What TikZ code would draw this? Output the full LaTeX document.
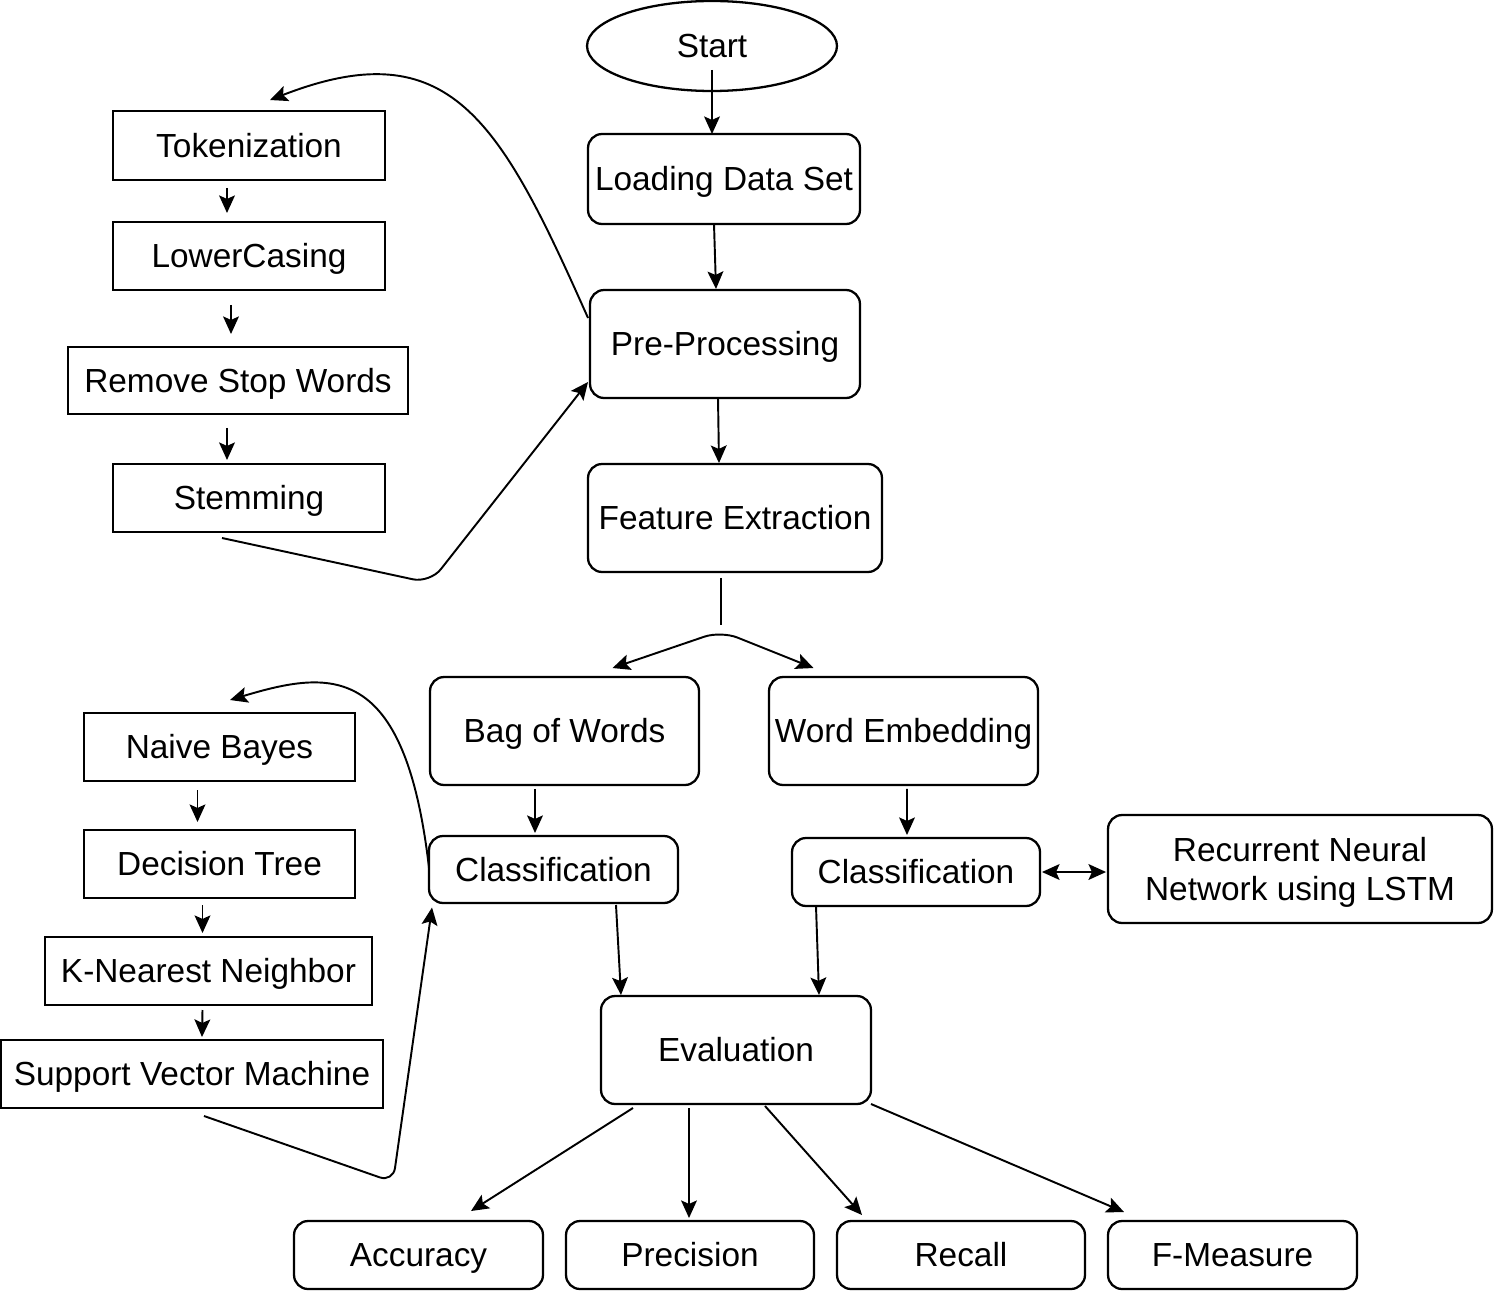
\documentclass[tikz,border=0pt]{standalone}
\usepackage{fontspec}
\setmainfont{Liberation Sans}
\usetikzlibrary{shapes.geometric,arrows.meta,calc}
\begin{document}
\begin{tikzpicture}[x=0.02cm,y=-0.02cm,
  font=\fontsize{19}{22.7}\selectfont,
  base/.style={draw,line width=1.3pt,inner sep=2pt,outer sep=0pt,align=center,text height=15.2pt,text depth=1.6pt},
  sbox/.style={base,rectangle,minimum height=1.36cm},
  rbox/.style={base,rectangle,rounded corners=8pt},
  tall/.style={rbox,minimum height=2.16cm},
  short/.style={rbox,minimum height=1.36cm},
  conn/.style={line width=1.1pt,-{Stealth[length=10pt,width=9pt,inset=2pt]}},
  plain/.style={line width=1.1pt}]
\useasboundingbox (0,0) rectangle (1494,1291);
% main column
\node[base,ellipse,minimum width=5cm,minimum height=1.8cm] (start) at (712,46) {Start};
\node[rbox,minimum width=5.44cm,minimum height=1.8cm] (load) at (724,179) {Loading Data Set};
\node[tall,minimum width=5.4cm] (pre) at (725,344) {Pre-Processing};
\node[tall,minimum width=5.88cm] (fe) at (735,518) {Feature Extraction};
% preprocessing steps
\node[sbox,minimum width=5.44cm,minimum height=1.38cm] (tok) at (249,145.5) {Tokenization};
\node[sbox,minimum width=5.44cm] (low) at (249,256) {LowerCasing};
\node[sbox,minimum width=6.8cm,minimum height=1.34cm] (rsw) at (238,380.5) {Remove Stop Words};
\node[sbox,minimum width=5.44cm] (stem) at (249,498) {Stemming};
% features
\node[tall,minimum width=5.38cm] (bow) at (564.5,731) {Bag of Words};
\node[tall,minimum width=5.38cm] (we) at (903.5,731) {Word Embedding};
\node[short,minimum width=4.98cm,minimum height=1.34cm] (cl) at (553.5,869.5) {Classification};
\node[short,minimum width=4.96cm] (cr) at (916,872) {Classification};
\node[tall,minimum width=7.68cm,text height=36.3pt,text depth=0pt] (rnn) at (1300,869) {Recurrent Neural\\Network using LSTM};
% classifiers
\node[sbox,minimum width=5.42cm] (nb) at (219.5,747) {Naive Bayes};
\node[sbox,minimum width=5.42cm] (dt) at (219.5,864) {Decision Tree};
\node[sbox,minimum width=6.54cm] (knn) at (208.5,971) {K-Nearest Neighbor};
\node[sbox,minimum width=7.64cm] (svm) at (192,1074) {Support Vector Machine};
% evaluation
\node[tall,minimum width=5.4cm] (eval) at (736,1050) {Evaluation};
\node[short,minimum width=4.98cm] (acc) at (418.5,1255) {Accuracy};
\node[short,minimum width=4.96cm] (prec) at (690,1255) {Precision};
\node[short,minimum width=4.96cm] (rec) at (961,1255) {Recall};
\node[short,minimum width=4.98cm] (fm) at (1232.5,1255) {F-Measure};

% main flow
\draw[conn] ($(start.center)+(0,24)$) -- (start.center |- load.north);
\draw[conn] ($(load.south)+(-10,0)$) -- ($(pre.north)+(-9,-1)$);
\draw[conn] ($(pre.south)+(-7,0)$) -- ($(fe.north)+(-16,-1)$);
\coordinate (fk) at ($(fe.south)+(-14,59)$);
\draw[plain] ($(fe.south)+(-14,6)$) -- ($(fk)+(0,-6)$);
\draw[line width=1.1pt,{Stealth[length=10pt,width=9pt,inset=2pt]}-{Stealth[length=10pt,width=9pt,inset=2pt]},rounded corners=10pt]
  ($(bow.north)+(48,-9)$) -- (fk) -- ($(we.north)+(-90,-9)$);
% preprocessing chain
\draw[conn] ($(tok.south)+(-22,8)$) -- ($(low.north)+(-22,-9)$);
\draw[conn] ($(low.south)+(-18,15)$) -- ($(rsw.north)+(-7,-13)$);
\draw[conn] ($(rsw.south)+(-11,14)$) -- ($(stem.north)+(-22,-4)$);
\draw[conn] ($(pre.west)+(-2,-26)$) .. controls (500,120) and (450,30) .. ($(tok.north)+(21,-11)$);
\draw[conn,rounded corners=10pt] ($(stem.south)+(-27,6)$) -- (430,583) -- ($(pre.west)+(-2,38)$);
% features to classification
\draw[conn] ($(bow.south)+(-29.5,4)$) -- ($(cl.north)+(-18.5,-3)$);
\draw[conn] ($(we.south)+(3.5,4)$) -- ($(cr.north)+(-9,-3)$);
\draw[line width=1.1pt,{Stealth[length=10pt,width=9pt,inset=2pt]}-{Stealth[length=10pt,width=9pt,inset=2pt]}]
  ($(cr.east)+(2,0)$) -- ($(cr.east -| rnn.west)+(-2,0)$);
\draw[conn] ($(cl.south)+(62.5,2)$) -- ($(eval.north)+(-115,-1)$);
\draw[conn] ($(cr.south)+(-100,0)$) -- ($(eval.north)+(83,-1)$);
% classifier chain
\draw[conn] ($(cl.west)+(0,-1.5)$) .. controls (405,660) and (330,670) .. ($(nb.north)+(10.5,-13)$);
\draw[conn] ($(nb.south)+(-22,9)$) -- ($(dt.north)+(-22,-8)$);
\draw[conn] ($(dt.south)+(-17,7)$) -- ($(knn.north)+(-6,-4)$);
\draw[conn] ($(knn.south)+(-6,5)$) -- ($(svm.north)+(10,-3)$);
\draw[conn,rounded corners=8pt] ($(svm.south)+(12,8)$) -- (393,1182) -- ($(cl.west)+(3,38)$);
% evaluation metrics
\draw[conn] ($(eval.south)+(-103,4)$) -- ($(acc.north)+(52.5,-10)$);
\draw[conn] ($(eval.south)+(-47,4)$) -- ($(prec.north)+(-1,-3)$);
\draw[conn] ($(eval.south)+(29,2)$) -- ($(rec.north)+(-99,-6)$);
\draw[conn] (eval.south east) -- ($(fm.north)+(-108.5,-9)$);
\end{tikzpicture}
\end{document}
